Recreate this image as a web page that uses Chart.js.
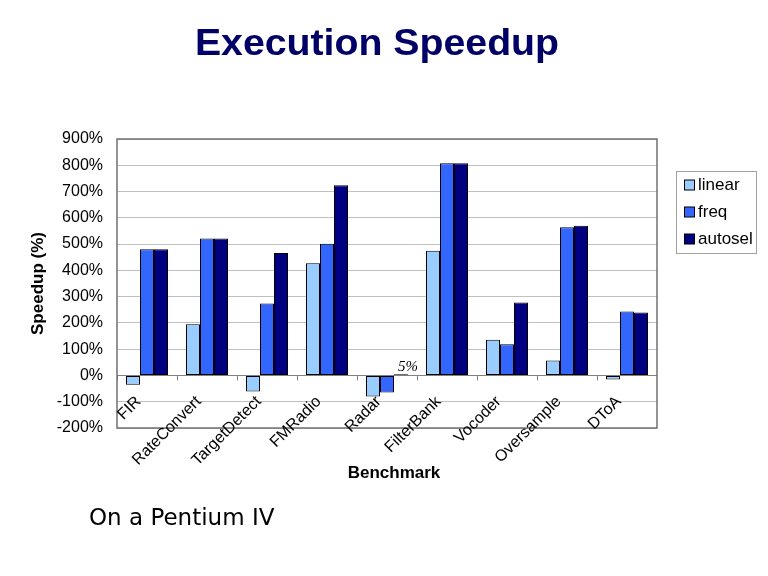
<!DOCTYPE html>
<html>
<head>
<meta charset="utf-8">
<script src="https://cdn.jsdelivr.net/npm/chart.js@4"></script>
<style>
  body { margin: 0; background: #fff; }
  #wrap { position: relative; width: 768px; height: 576px; overflow: hidden; }
  #title { position: absolute; left: 0; width: 754px; top: 22px; text-align: center;
           font: bold 36px "Liberation Sans", Arial, sans-serif; color: #000066;
           transform: scaleX(1.09); transform-origin: 377px 0; }
  #note { position: absolute; left: 89px; top: 504px;
          font: 23px "DejaVu Sans", Verdana, sans-serif; color: #000; }
  canvas { position: absolute; left: 0; top: 0; }
</style>
</head>
<body>
<div id="wrap">
  <canvas id="myChart" width="768" height="576"></canvas>
  <div id="title">Execution Speedup</div>
  <div id="note">On a Pentium IV</div>
</div>
<script>
// Benchmarks and speedups (%)
const benchmarks = ['FIR', 'RateConvert', 'TargetDetect', 'FMRadio', 'Radar', 'FilterBank', 'Vocoder', 'Oversample', 'DToA'];
const linear  = [-35, 195, -61, 427, -80, 475, 136, 57, -15];
const freq    = [480, 521, 274, 501, -65, 808, 119, 564, 243];
const autosel = [480, 521, 466, 724, 5, 808, 278, 570, 240];
const yTicks = { min: -200, max: 900, step: 100 };

const FONT = '"Liberation Sans", Arial, sans-serif';

// Frame, zero axis with category ticks, rotated category labels, legend, 5% note
const extras = {
    id: 'extras',
    beforeDatasetsDraw(chart) {
        const { ctx, chartArea: a, scales: { x, y } } = chart;
        const y0 = y.getPixelForValue(0);
        const half = (x.getPixelForValue(1) - x.getPixelForValue(0)) / 2;
        ctx.save();
        ctx.strokeStyle = '#808080';
        ctx.lineWidth = 1;
        ctx.beginPath();
        ctx.moveTo(a.left, Math.round(y0) + 0.5);
        ctx.lineTo(a.right, Math.round(y0) + 0.5);
        benchmarks.forEach((b, i) => {
            const px = Math.round(x.getPixelForValue(i) - half) + 0.5;
            ctx.moveTo(px, y0);
            ctx.lineTo(px, y0 + 5);
        });
        ctx.stroke();
        ctx.restore();
    },
    afterDraw(chart) {
        const { ctx, chartArea: a, scales: { x, y } } = chart;
        const y0 = y.getPixelForValue(0);
        ctx.save();
        // plot frame
        ctx.strokeStyle = '#707070';
        ctx.lineWidth = 1.5;
        ctx.strokeRect(a.left, a.top, a.right - a.left, a.bottom - a.top);

        // category labels, rotated, hanging under the 0% line
        ctx.fillStyle = '#000';
        ctx.font = '16px ' + FONT;
        ctx.textAlign = 'right';
        ctx.textBaseline = 'top';
        benchmarks.forEach((b, i) => {
            ctx.save();
            ctx.translate(x.getPixelForValue(i) - 14, y0 + 18);
            ctx.rotate(-Math.PI / 4);
            ctx.fillText(b, 0, 0);
            ctx.restore();
        });

        // axis title under the labels
        ctx.font = 'bold 17px ' + FONT;
        ctx.textAlign = 'center';
        ctx.textBaseline = 'middle';
        ctx.fillText('Benchmark', (a.left + a.right) / 2 + 7, 473);

        // "5%" note over the tiny Radar autosel bar
        const bar = chart.getDatasetMeta(2).data[4];
        ctx.font = 'italic 15px "Liberation Serif", "Times New Roman", serif';
        ctx.textAlign = 'left';
        ctx.fillText(autosel[4] + '%', bar.x - 3, bar.y - 7);

        // legend
        const lx = 676.5, ly = 171.5, lw = 80, lh = 82;
        ctx.strokeStyle = '#a0a0a0';
        ctx.lineWidth = 1;
        ctx.strokeRect(lx, ly, lw, lh);
        ctx.font = '17px ' + FONT;
        chart.data.datasets.forEach((ds, i) => {
            const cy = 185 + i * 27;
            ctx.fillStyle = ds.backgroundColor;
            ctx.fillRect(684.5, cy - 5, 10, 10);
            ctx.strokeStyle = '#000';
            ctx.strokeRect(684.5, cy - 5, 10, 10);
            ctx.fillStyle = '#000';
            ctx.fillText(ds.label, 698, cy);
        });
        ctx.restore();
    }
};

new Chart(document.getElementById('myChart').getContext('2d'), {
    type: 'bar',
    data: {
        labels: benchmarks,
        datasets: [
            { label: 'linear',  data: linear,  backgroundColor: '#99CCFF', borderColor: '#000' },
            { label: 'freq',    data: freq,    backgroundColor: '#3366FF', borderColor: '#000' },
            { label: 'autosel', data: autosel, backgroundColor: '#000080', borderColor: '#000' }
        ]
    },
    options: {
        responsive: false,
        animation: false,
        layout: { padding: { top: 139, right: 111, bottom: 0, left: 0 } },
        datasets: {
            bar: {
                borderWidth: 1, borderSkipped: false,
                categoryPercentage: 0.7, barPercentage: 1.0
            }
        },
        scales: {
            x: {
                ticks: { display: false },
                grid: { display: false },
                border: { display: false },
                afterFit(scale) { scale.height = 148; }
            },
            y: {
                min: yTicks.min, max: yTicks.max,
                ticks: {
                    stepSize: yTicks.step, padding: 14, color: '#000',
                    font: { family: FONT, size: 16 },
                    callback: v => v + '%'
                },
                grid: { color: '#c0c0c0', drawTicks: false },
                border: { display: false },
                title: {
                    display: true, text: 'Speedup (%)', color: '#000',
                    font: { family: FONT, size: 17, weight: 'bold' },
                    padding: { top: 28, bottom: 0 }
                },
                afterFit(scale) { scale.width = 117; }
            }
        },
        plugins: {
            legend: { display: false },
            tooltip: { enabled: false }
        }
    },
    plugins: [extras]
});
</script>
</body>
</html>
